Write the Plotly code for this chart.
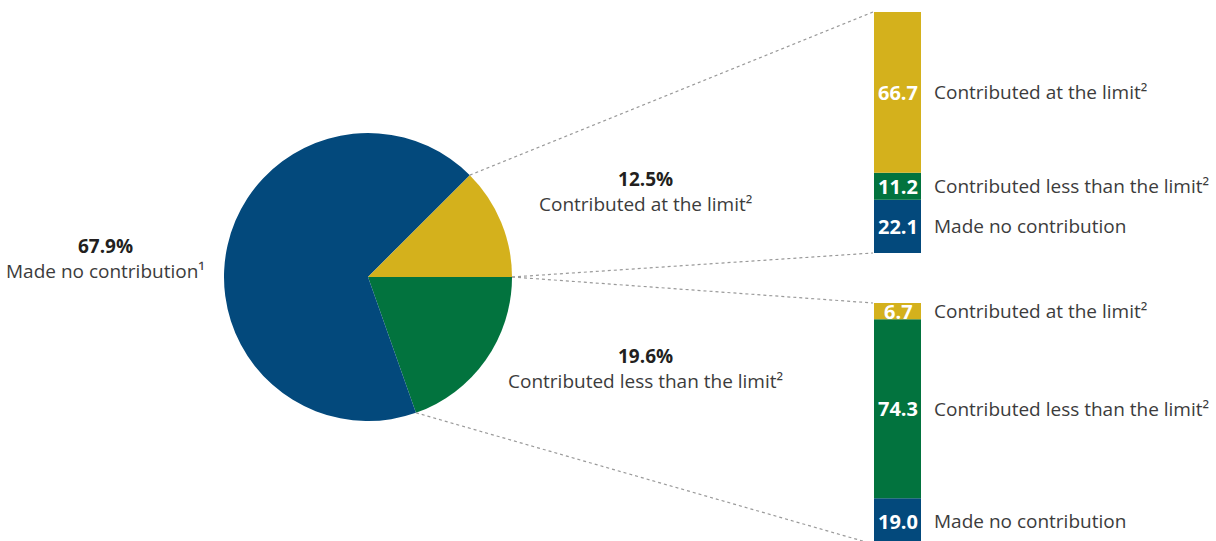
import math
import plotly.graph_objects as go

# ---------------- data ----------------
pie_labels = ["Contributed less than the limit²", "Made no contribution¹", "Contributed at the limit²"]
pie_values = [19.6, 67.9, 12.5]
pie_colors = ["#02733E", "#03497C", "#D4B11C"]

seg_labels = ["Made no contribution", "Contributed less than the limit²", "Contributed at the limit²"]
seg_colors = ["#03497C", "#02733E", "#D4B11C"]
at_limit_breakdown = [22.1, 11.2, 66.7]      # bottom -> top (upper bar)
less_limit_breakdown = [19.0, 74.3, 6.7]     # bottom -> top (lower bar)

# ---------------- geometry (layout) ----------------
W, H = 1216, 541
CX, CY, R = 368, 277, 144           # pie centre / radius in px
BAR_L, BAR_R = 874, 921             # bar horizontal extent (px)
TOP_T, TOP_B = 12, 253              # upper bar (px)
BOT_T = 303                         # lower bar top (px)
PX_PER_UNIT = (TOP_B - TOP_T) / 100.0
bot_lo = 100 - (H - BOT_T) / PX_PER_UNIT

TXT = "#3c3c3c"
BOLD = "#231f20"
FONT = "Open Sans"
FS = 19

fig = go.Figure()

fig.add_trace(go.Pie(
    labels=pie_labels, values=pie_values, sort=False, direction="clockwise",
    rotation=90, marker=dict(colors=pie_colors, line=dict(width=0)),
    textinfo="none", hoverinfo="label+value",
    domain=dict(x=[(CX - R) / W, (CX + R) / W], y=[(H - CY - R) / H, (H - CY + R) / H]),
))

def add_bar(vals, xa, ya):
    base = 0
    for v, c, name in zip(vals, seg_colors, seg_labels):
        fig.add_trace(go.Bar(x=[0], y=[v], base=[base], width=[1], marker=dict(color=c, line=dict(width=0)),
                             xaxis=xa, yaxis=ya, name=name, hoverinfo="y+name"))
        mid = base + v / 2
        fig.add_annotation(x=0.02, y=mid, xref=xa, yref=ya, text=f"<b>{v:.1f}</b>", showarrow=False,
                           font=dict(family=FONT, size=20, color="white"), xanchor="center", yanchor="middle")
        fig.add_annotation(x=932 / W, y=mid, xref="paper", yref=ya, text=name, showarrow=False,
                           font=dict(family=FONT, size=FS, color=TXT), xanchor="left", yanchor="middle")
        base += v

add_bar(at_limit_breakdown, "x", "y")
add_bar(less_limit_breakdown, "x2", "y2")

# pie labels
def pie_note(xc, yc, val, label):
    fig.add_annotation(x=xc / W, y=1 - yc / H, xref="paper", yref="paper",
                       text=f"<span style='color:{BOLD}'><b>{val:.1f}%</b></span><br>{label}",
                       showarrow=False, align="center", xanchor="center", yanchor="middle",
                       font=dict(family=FONT, size=FS, color=TXT))

pie_note(645, 191, pie_values[2], pie_labels[2])
pie_note(645, 368, pie_values[0], pie_labels[0])
pie_note(106, 258, pie_values[1], pie_labels[1])

# connector lines
def pie_pt(angle_deg):
    a = math.radians(angle_deg)
    return (CX + R * math.cos(a)) / W, 1 - (CY - R * math.sin(a)) / H

yellow_end = pie_values[2] / 100 * 360
green_end = -pie_values[0] / 100 * 360
line = dict(color="#9a9a9a", width=1.2, dash="3px,3px")
bx = (BAR_L - 1) / W
for ang, ty in [(yellow_end, TOP_T), (0, TOP_B), (0, BOT_T), (green_end, H + 3)]:
    px, py = pie_pt(ang)
    fig.add_shape(type="line", xref="paper", yref="paper", x0=px, y0=py, x1=bx, y1=1 - ty / H, line=line)

ax_common = dict(visible=False, fixedrange=True)
fig.update_layout(
    width=W, height=H, margin=dict(l=0, r=0, t=0, b=0),
    paper_bgcolor="white", plot_bgcolor="white", showlegend=False, barmode="overlay",
    xaxis=dict(domain=[BAR_L / W, BAR_R / W], range=[-0.5, 0.5], **ax_common),
    xaxis2=dict(domain=[BAR_L / W, BAR_R / W], range=[-0.5, 0.5], anchor="y2", **ax_common),
    yaxis=dict(domain=[1 - TOP_B / H, 1 - TOP_T / H], range=[0, 100], **ax_common),
    yaxis2=dict(domain=[0, 1 - BOT_T / H], range=[bot_lo, 100], anchor="x2", **ax_common),
    font=dict(family=FONT),
)

fig.write_html("out.html")
